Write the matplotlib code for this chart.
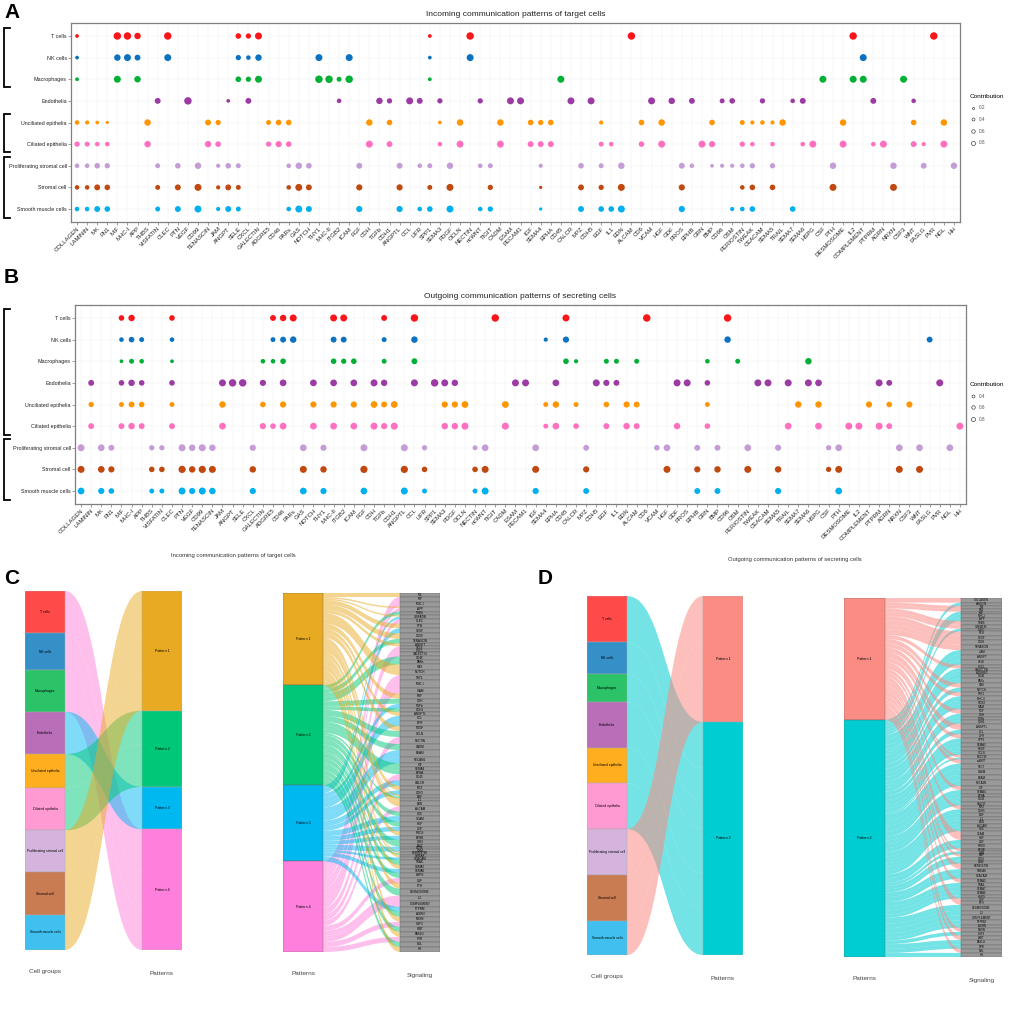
import matplotlib
matplotlib.use("Agg")
import matplotlib.pyplot as plt
from matplotlib.path import Path
from matplotlib.patches import PathPatch
from matplotlib.lines import Line2D
from matplotlib.transforms import blended_transform_factory

plt.rcParams['font.family'] = ['Liberation Sans', 'DejaVu Sans']

W, H = 1017, 1028

pathways = ["COLLAGEN", "LAMININ", "MK", "FN1", "MIF", "MHC-I", "APP", "THBS", "VISFATIN", "CLEC",
            "PTN", "VEGF", "CD99", "TENASCIN", "JAM", "ANGPT", "SELE", "CXCL", "GALECTIN", "ADGRE5",
            "CD46", "PARs", "GAS", "NOTCH", "THY1", "MHC-II", "ITGB2", "ICAM", "FGF", "CDH",
            "TGFb", "CDH1", "ANGPTL", "CCL", "LIFR", "SPP1", "SEMA3", "PDGF", "OCLN", "NECTIN",
            "ncWNT", "TIGIT", "CADM", "ESAM", "PECAM1", "IGF", "SEMA4", "EPHA", "CD45", "CALCR",
            "MPZ", "CDH5", "EGF", "IL1", "EDN", "ALCAM", "CD6", "VCAM", "HGF", "GDF",
            "PROS", "EPHB", "GRN", "BMP", "CD96", "OSM", "PERIOSTIN", "TWEAK", "CEACAM", "SEMA5",
            "TRAIL", "SEMA7", "SEMA6", "HSPG", "CSF", "PTH", "DESMOSOME", "IL2", "COMPLEMENT", "PTPRM",
            "AGRN", "NRXN", "CSF3", "WNT", "FASLG", "PVR", "NGL", "HH"]

cell_groups = ["T cells", "NK cells", "Macrophages", "Endothelia", "Unciliated epithelia",
               "Ciliated epithelia", "Proliferating stromal cell", "Stromal cell", "Smooth muscle cells"]
dot_colors = ["#F8161A", "#0A72C0", "#00B035", "#9D3BA5", "#FF9500",
              "#FF70C0", "#C59DD6", "#C0490F", "#00B0EE"]
box_colors = ["#FF4A4A", "#3690C8", "#2BC268", "#B86FB8", "#FFAE20",
              "#FF9AD2", "#D4B4DC", "#C97B52", "#3FC0EE"]

# ---- panel A: incoming contributions ----
inc_t = {"COLLAGEN": .2, "MIF": .8, "MHC-I": .8, "APP": .6, "CLEC": .8, "SELE": .45, "CXCL": .4,
         "GALECTIN": .7, "SPP1": .2, "NECTIN": .8, "ALCAM": .8, "IL2": .8, "PVR": .8}
inc_nk = {"COLLAGEN": .2, "MIF": .6, "MHC-I": .7, "APP": .5, "CLEC": .7, "SELE": .4, "CXCL": .3,
          "GALECTIN": .6, "THY1": .7, "ICAM": .7, "SPP1": .2, "NECTIN": .7, "COMPLEMENT": .7}
inc_mac = {"COLLAGEN": .2, "MIF": .7, "APP": .6, "SELE": .45, "CXCL": .4, "GALECTIN": .7, "THY1": .8,
           "MHC-II": .8, "ITGB2": .35, "ICAM": .8, "SPP1": .2, "CD45": .7, "CSF": .7, "IL2": .7,
           "COMPLEMENT": .7, "CSF3": .7}
inc_endo = {"VISFATIN": .5, "VEGF": .8, "ANGPT": .2, "CXCL": .5, "ITGB2": .3, "TGFb": .6, "CDH1": .4,
            "CCL": .7, "LIFR": .5, "SEMA3": .4, "ncWNT": .4, "ESAM": .7, "PECAM1": .7, "CALCR": .7,
            "CDH5": .7, "VCAM": .7, "GDF": .6, "EPHB": .5, "CD96": .35, "OSM": .45, "CEACAM": .4,
            "SEMA7": .3, "SEMA6": .5, "PTPRM": .5, "WNT": .3}
inc_uncil = {"COLLAGEN": .3, "LAMININ": .25, "MK": .2, "FN1": .15, "THBS": .6, "TENASCIN": .5, "JAM": .4,
             "ADGRE5": .35, "CD46": .45, "PARs": .45, "CDH": .6, "CDH1": .45, "SEMA3": .2, "OCLN": .6,
             "CADM": .6, "IGF": .45, "SEMA4": .4, "EPHA": .45, "EGF": .25, "CD6": .45, "HGF": .6,
             "BMP": .45, "PERIOSTIN": .35, "TWEAK": .25, "CEACAM": .3, "SEMA5": .25, "TRAIL": .6,
             "DESMOSOME": .6, "WNT": .45, "NGL": .6}
inc_cil = {"COLLAGEN": .4, "LAMININ": .35, "MK": .3, "FN1": .3, "THBS": .6, "TENASCIN": .6, "JAM": .45,
           "ADGRE5": .4, "CD46": .55, "PARs": .45, "CDH": .7, "CDH1": .5, "SEMA3": .3, "OCLN": .7,
           "CADM": .7, "IGF": .5, "SEMA4": .5, "EPHA": .5, "EGF": .35, "IL1": .3, "CD6": .45, "HGF": .7,
           "GRN": .7, "BMP": .55, "PERIOSTIN": .4, "TWEAK": .3, "SEMA5": .3, "SEMA6": .3, "HSPG": .7,
           "DESMOSOME": .7, "PTPRM": .3, "AGRN": .7, "WNT": .5, "FASLG": .25, "NGL": .7}
inc_prol = {"COLLAGEN": .3, "LAMININ": .3, "MK": .45, "FN1": .4, "VISFATIN": .35, "PTN": .45, "CD99": .6,
            "JAM": .25, "ANGPT": .45, "SELE": .35, "PARs": .3, "GAS": .6, "NOTCH": .45, "FGF": .5,
            "ANGPTL": .5, "LIFR": .3, "SPP1": .35, "PDGF": .6, "ncWNT": .3, "TIGIT": .35, "SEMA4": .25,
            "MPZ": .45, "EGF": .35, "EDN": .6, "PROS": .5, "EPHB": .3, "BMP": .2, "CD96": .25, "OSM": .25,
            "PERIOSTIN": .3, "TWEAK": .4, "SEMA5": .4, "PTH": .6, "NRXN": .6, "FASLG": .5, "HH": .6}
inc_strom = {"COLLAGEN": .3, "LAMININ": .3, "MK": .5, "FN1": .45, "VISFATIN": .35, "PTN": .5, "CD99": .7,
             "JAM": .25, "ANGPT": .5, "SELE": .35, "PARs": .3, "GAS": .7, "NOTCH": .5, "FGF": .55,
             "ANGPTL": .55, "SPP1": .35, "PDGF": .7, "TIGIT": .4, "SEMA4": .15, "MPZ": .5, "EGF": .4,
             "EDN": .7, "PROS": .55, "PERIOSTIN": .3, "TWEAK": .45, "SEMA5": .45, "PTH": .7, "NRXN": .7}
inc_smooth = {"COLLAGEN": .3, "LAMININ": .3, "MK": .5, "FN1": .45, "VISFATIN": .35, "PTN": .5, "CD99": .7,
              "JAM": .25, "ANGPT": .5, "SELE": .35, "PARs": .3, "GAS": .7, "NOTCH": .5, "FGF": .55,
              "ANGPTL": .55, "LIFR": .3, "SPP1": .45, "PDGF": .7, "ncWNT": .3, "TIGIT": .4, "SEMA4": .15,
              "MPZ": .5, "EGF": .45, "IL1": .45, "EDN": .7, "PROS": .55, "OSM": .25, "PERIOSTIN": .3,
              "TWEAK": .45, "SEMA7": .45}
incoming = [inc_t, inc_nk, inc_mac, inc_endo, inc_uncil, inc_cil, inc_prol, inc_strom, inc_smooth]

# ---- panel B: outgoing contributions ----
out_t = {"MIF": .45, "MHC-I": .6, "CLEC": .45, "ADGRE5": .5, "CD46": .6, "PARs": .7, "MHC-II": .7,
         "ITGB2": .7, "TGFb": .5, "CCL": .8, "TIGIT": .8, "CD45": .7, "CD6": .8, "CD96": .8}
out_nk = {"MIF": .3, "MHC-I": .45, "APP": .35, "CLEC": .3, "ADGRE5": .35, "CD46": .5, "PARs": .6,
          "MHC-II": .5, "ITGB2": .5, "TGFb": .35, "CCL": .6, "SEMA4": .25, "CD45": .55, "CD96": .6, "FASLG": .5}
out_mac = {"MIF": .2, "MHC-I": .35, "APP": .3, "CLEC": .2, "GALECTIN": .3, "ADGRE5": .3, "CD46": .45,
           "MHC-II": .45, "ITGB2": .4, "ICAM": .45, "TGFb": .35, "CCL": .5, "CD45": .45, "CALCR": .25,
           "EGF": .35, "IL1": .35, "ALCAM": .35, "GRN": .3, "OSM": .35, "SEMA6": .6}
out_endo = {"LAMININ": .5, "MIF": .45, "MHC-I": .6, "APP": .45, "CLEC": .45, "JAM": .7, "ANGPT": .8,
            "SELE": .8, "GALECTIN": .55, "CD46": .65, "NOTCH": .65, "MHC-II": .65, "ICAM": .65, "CDH": .7,
            "TGFb": .6, "CCL": .7, "SPP1": .8, "SEMA3": .7, "PDGF": .6, "ESAM": .7, "PECAM1": .7,
            "EPHA": .65, "CDH5": .7, "EGF": .55, "IL1": .5, "GDF": .7, "PROS": .7, "GRN": .45, "TWEAK": .7,
            "CEACAM": .7, "TRAIL": .7, "SEMA6": .7, "HSPG": .65, "PTPRM": .7, "AGRN": .5, "PVR": .7}
out_uncil = {"LAMININ": .4, "MIF": .35, "MHC-I": .5, "APP": .45, "CLEC": .35, "JAM": .6, "GALECTIN": .45,
             "CD46": .55, "NOTCH": .55, "MHC-II": .55, "ICAM": .55, "CDH": .65, "TGFb": .5, "CDH1": .65,
             "SEMA3": .55, "PDGF": .55, "OCLN": .65, "CADM": .65, "SEMA4": .35, "EPHA": .6, "CALCR": .35,
             "EGF": .45, "EDN": .55, "ALCAM": .5, "GRN": .35, "SEMA7": .6, "HSPG": .6, "COMPLEMENT": .55,
             "AGRN": .45, "CSF3": .55}
out_cil = {"LAMININ": .5, "MIF": .5, "MHC-I": .6, "APP": .5, "CLEC": .5, "JAM": .65, "GALECTIN": .55,
           "ADGRE5": .45, "CD46": .65, "NOTCH": .65, "MHC-II": .65, "ICAM": .65, "CDH": .7, "TGFb": .55,
           "CDH1": .7, "SEMA3": .6, "PDGF": .6, "OCLN": .7, "CADM": .7, "SEMA4": .35, "EPHA": .65,
           "CALCR": .45, "EGF": .5, "EDN": .6, "ALCAM": .5, "GDF": .6, "GRN": .45, "TRAIL": .65, "HSPG": .65,
           "DESMOSOME": .7, "IL2": .7, "PTPRM": .7, "AGRN": .5, "HH": .7}
out_prol = {"COLLAGEN": .7, "MK": .65, "FN1": .5, "THBS": .4, "VISFATIN": .4, "PTN": .7, "VEGF": .6,
            "CD99": .7, "TENASCIN": .6, "CXCL": .55, "GAS": .65, "THY1": .55, "FGF": .7, "ANGPTL": .7,
            "LIFR": .4, "NECTIN": .35, "ncWNT": .65, "IGF": .65, "MPZ": .5, "VCAM": .45, "HGF": .65,
            "EPHB": .5, "BMP": .5, "PERIOSTIN": .65, "SEMA5": .55, "CSF": .4, "PTH": .65, "NRXN": .65,
            "WNT": .65, "NGL": .65}
out_strom = {"COLLAGEN": .7, "MK": .65, "FN1": .55, "THBS": .45, "VISFATIN": .45, "PTN": .75, "VEGF": .6,
             "CD99": .75, "TENASCIN": .7, "CXCL": .6, "GAS": .7, "THY1": .6, "FGF": .75, "ANGPTL": .75,
             "LIFR": .45, "NECTIN": .45, "ncWNT": .7, "IGF": .7, "MPZ": .55, "HGF": .7, "EPHB": .55,
             "BMP": .6, "PERIOSTIN": .7, "SEMA5": .6, "CSF": .4, "PTH": .7, "NRXN": .7, "WNT": .7}
out_smooth = {"COLLAGEN": .65, "MK": .55, "FN1": .45, "THBS": .35, "VISFATIN": .35, "PTN": .7, "VEGF": .55,
              "CD99": .7, "TENASCIN": .6, "CXCL": .55, "GAS": .65, "THY1": .55, "FGF": .65, "ANGPTL": .7,
              "LIFR": .35, "NECTIN": .35, "ncWNT": .7, "IGF": .55, "MPZ": .5, "EPHB": .5, "BMP": .5,
              "SEMA5": .55, "PTH": .65}
outgoing = [out_t, out_nk, out_mac, out_endo, out_uncil, out_cil, out_prol, out_strom, out_smooth]

# ---- panel C: river plots (incoming) ----
c_patterns = ["Pattern 1", "Pattern 2", "Pattern 3", "Pattern 4"]
c_pattern_colors = ["#E8AA22", "#00C878", "#00B8F0", "#FF80DC"]
c_cell_flows = [("T cells", "Pattern 4", 1.26), ("NK cells", "Pattern 4", 1.10),
                ("Macrophages", "Pattern 4", 1.25), ("Endothelia", "Pattern 3", 1.27),
                ("Unciliated epithelia", "Pattern 2", 1.00), ("Ciliated epithelia", "Pattern 2", 1.28),
                ("Proliferating stromal cell", "Pattern 1", 1.26), ("Stromal cell", "Pattern 1", 1.27),
                ("Smooth muscle cells", "Pattern 1", 1.05)]
c_signals = ["MK", "MIF", "MHC-I", "APP", "THBS", "VISFATIN", "CLEC", "PTN", "VEGF", "CD99", "TENASCIN",
             "ANGPT", "SELE", "CXCL", "GALECTIN", "CD46", "PARs", "GAS", "NOTCH", "THY1", "MHC-II", "ICAM",
             "FGF", "CDH", "TGFb", "CDH1", "ANGPTL", "CCL", "LIFR", "PDGF", "OCLN", "NECTIN", "CADM", "ESAM",
             "PECAM1", "IGF", "SEMA4", "EPHA", "CD45", "CALCR", "MPZ", "CDH5", "EGF", "IL1", "EDN", "ALCAM",
             "CD6", "VCAM", "HGF", "GDF", "PROS", "EPHB", "GRN", "BMP", "CD96", "OSM", "PERIOSTIN", "TWEAK",
             "CEACAM", "TRAIL", "SEMA7", "SEMA6", "HSPG", "CSF", "PTH", "DESMOSOME", "IL2", "COMPLEMENT",
             "PTPRM", "AGRN", "NRXN", "CSF3", "WNT", "FASLG", "PVR", "NGL", "HH"]
c_signal_flows = [
    ("Pattern 1", "MK", .8), ("Pattern 4", "MIF", .9), ("Pattern 4", "MHC-I", 1.0), ("Pattern 4", "APP", .7),
    ("Pattern 1", "APP", .3), ("Pattern 2", "THBS", .7), ("Pattern 3", "VISFATIN", .5), ("Pattern 1", "VISFATIN", .3),
    ("Pattern 4", "CLEC", .9), ("Pattern 1", "PTN", .9), ("Pattern 3", "VEGF", 1.0), ("Pattern 1", "CD99", 1.1),
    ("Pattern 2", "TENASCIN", .9), ("Pattern 1", "ANGPT", .6), ("Pattern 4", "SELE", .6), ("Pattern 4", "CXCL", .6),
    ("Pattern 4", "GALECTIN", .8), ("Pattern 2", "CD46", .8), ("Pattern 2", "PARs", .8), ("Pattern 1", "GAS", 1.0),
    ("Pattern 1", "NOTCH", 1.1), ("Pattern 4", "THY1", 1.0), ("Pattern 4", "MHC-II", 1.6), ("Pattern 4", "ICAM", 1.1),
    ("Pattern 1", "FGF", 1.0), ("Pattern 2", "CDH", 1.0), ("Pattern 3", "TGFb", .9), ("Pattern 2", "CDH1", .7),
    ("Pattern 1", "ANGPTL", .8), ("Pattern 3", "CCL", 1.0), ("Pattern 3", "LIFR", 1.0), ("Pattern 1", "PDGF", 1.0),
    ("Pattern 2", "OCLN", 1.2), ("Pattern 4", "NECTIN", 1.4), ("Pattern 2", "CADM", 1.2), ("Pattern 3", "ESAM", 1.3),
    ("Pattern 3", "PECAM1", 1.3), ("Pattern 2", "IGF", .8), ("Pattern 2", "SEMA4", .7), ("Pattern 2", "EPHA", .7),
    ("Pattern 4", "CD45", 1.2), ("Pattern 3", "CALCR", 1.1), ("Pattern 1", "MPZ", .9), ("Pattern 3", "CDH5", .9),
    ("Pattern 2", "EGF", .4), ("Pattern 1", "EGF", .3), ("Pattern 1", "IL1", .6), ("Pattern 1", "EDN", 1.0),
    ("Pattern 4", "ALCAM", 1.0), ("Pattern 2", "CD6", .9), ("Pattern 3", "VCAM", 1.1), ("Pattern 2", "HGF", 1.0),
    ("Pattern 3", "GDF", .9), ("Pattern 1", "PROS", .9), ("Pattern 3", "EPHB", .8), ("Pattern 2", "GRN", .9),
    ("Pattern 2", "BMP", .5), ("Pattern 3", "CD96", .5), ("Pattern 3", "OSM", .5), ("Pattern 1", "PERIOSTIN", .3),
    ("Pattern 2", "PERIOSTIN", .3), ("Pattern 1", "TWEAK", .5), ("Pattern 3", "CEACAM", .5), ("Pattern 2", "TRAIL", 1.0),
    ("Pattern 1", "SEMA7", .8), ("Pattern 3", "SEMA6", .8), ("Pattern 2", "HSPG", 1.0), ("Pattern 4", "CSF", 1.0),
    ("Pattern 1", "PTH", 1.1), ("Pattern 2", "DESMOSOME", 1.4), ("Pattern 4", "IL2", 1.0), ("Pattern 4", "COMPLEMENT", 1.2),
    ("Pattern 3", "PTPRM", 1.0), ("Pattern 2", "AGRN", 1.0), ("Pattern 1", "NRXN", 1.0), ("Pattern 4", "CSF3", 1.0),
    ("Pattern 2", "WNT", 1.0), ("Pattern 1", "FASLG", 1.0), ("Pattern 4", "PVR", 1.0), ("Pattern 2", "NGL", 1.0),
    ("Pattern 1", "HH", 1.0)]

# ---- panel D: river plots (outgoing) ----
d_patterns = ["Pattern 1", "Pattern 2"]
d_pattern_colors = ["#FA8C84", "#00CDD1"]
d_cell_flows = [("T cells", "Pattern 2", 1.38), ("NK cells", "Pattern 2", 0.97),
                ("Macrophages", "Pattern 2", 0.83), ("Endothelia", "Pattern 2", 1.36),
                ("Unciliated epithelia", "Pattern 2", 1.07), ("Ciliated epithelia", "Pattern 2", 1.37),
                ("Proliferating stromal cell", "Pattern 1", 1.37), ("Stromal cell", "Pattern 1", 1.37),
                ("Smooth muscle cells", "Pattern 1", 1.03)]
d_signal_flows = [
    ("Pattern 1", "COLLAGEN", 1.0), ("Pattern 2", "LAMININ", .7), ("Pattern 1", "MK", .7), ("Pattern 1", "FN1", .6),
    ("Pattern 2", "MIF", .6), ("Pattern 2", "MHC-I", .8), ("Pattern 2", "APP", .6), ("Pattern 1", "THBS", .8),
    ("Pattern 1", "VISFATIN", .9), ("Pattern 2", "CLEC", .6), ("Pattern 1", "PTN", .9), ("Pattern 1", "VEGF", 1.0),
    ("Pattern 1", "CD99", 1.0), ("Pattern 1", "TENASCIN", 1.2), ("Pattern 2", "JAM", 1.0), ("Pattern 2", "ANGPT", 1.2),
    ("Pattern 2", "SELE", 1.0), ("Pattern 1", "CXCL", .8), ("Pattern 2", "GALECTIN", .6), ("Pattern 2", "ADGRE5", .6),
    ("Pattern 2", "CD46", 1.0), ("Pattern 2", "PARs", 1.0), ("Pattern 1", "GAS", 1.0), ("Pattern 2", "NOTCH", 1.0),
    ("Pattern 1", "THY1", .9), ("Pattern 2", "MHC-II", 1.0), ("Pattern 2", "ITGB2", .8), ("Pattern 2", "ICAM", 1.0),
    ("Pattern 1", "FGF", 1.0), ("Pattern 2", "CDH", .7), ("Pattern 2", "TGFb", .7), ("Pattern 2", "CDH1", .8),
    ("Pattern 1", "ANGPTL", 1.3), ("Pattern 2", "CCL", 1.0), ("Pattern 1", "LIFR", .9), ("Pattern 2", "SPP1", .9),
    ("Pattern 2", "SEMA3", 1.0), ("Pattern 2", "PDGF", .8), ("Pattern 2", "OCLN", .9), ("Pattern 1", "NECTIN", .6),
    ("Pattern 2", "NECTIN", .4), ("Pattern 1", "ncWNT", .9), ("Pattern 2", "TIGIT", 1.3), ("Pattern 2", "CADM", 1.2),
    ("Pattern 2", "ESAM", 1.2), ("Pattern 2", "PECAM1", 1.2), ("Pattern 1", "IGF", .9), ("Pattern 2", "SEMA4", .8),
    ("Pattern 2", "EPHA", .8), ("Pattern 2", "CD45", .9), ("Pattern 2", "CALCR", .9), ("Pattern 1", "MPZ", .8),
    ("Pattern 2", "CDH5", .9), ("Pattern 2", "EGF", .8), ("Pattern 2", "IL1", .7), ("Pattern 2", "EDN", .8),
    ("Pattern 2", "ALCAM", .8), ("Pattern 2", "CD6", .8), ("Pattern 1", "VCAM", 1.0), ("Pattern 1", "HGF", .9),
    ("Pattern 2", "GDF", .9), ("Pattern 2", "PROS", 1.0), ("Pattern 1", "EPHB", .6), ("Pattern 2", "GRN", .6),
    ("Pattern 1", "BMP", .6), ("Pattern 2", "CD96", .8), ("Pattern 2", "OSM", .7), ("Pattern 1", "PERIOSTIN", 1.2),
    ("Pattern 2", "TWEAK", 1.0), ("Pattern 2", "CEACAM", 1.1), ("Pattern 1", "SEMA5", .9), ("Pattern 2", "TRAIL", .9),
    ("Pattern 2", "SEMA7", .9), ("Pattern 2", "SEMA6", .9), ("Pattern 2", "HSPG", .7), ("Pattern 1", "CSF", .6),
    ("Pattern 1", "PTH", .8), ("Pattern 2", "DESMOSOME", 1.3), ("Pattern 2", "IL2", 1.0), ("Pattern 2", "COMPLEMENT", 1.1),
    ("Pattern 2", "PTPRM", .9), ("Pattern 2", "AGRN", .7), ("Pattern 1", "NRXN", .9), ("Pattern 2", "CSF3", .8),
    ("Pattern 1", "WNT", 1.0), ("Pattern 2", "FASLG", 1.0), ("Pattern 2", "PVR", .9), ("Pattern 1", "NGL", .9),
    ("Pattern 2", "HH", .9)]

SIZE_K = 36


def fig_rect(x0, y0, x1, y1):
    return [x0 / W, 1 - y1 / H, (x1 - x0) / W, (y1 - y0) / H]


def dot_panel(ax, data, title, legend_vals, legend_y):
    for i, row in enumerate(data):
        xs = [pathways.index(p) for p in row]
        ax.scatter(xs, [i] * len(xs), s=[SIZE_K * v for v in row.values()],
                   color=dot_colors[i], linewidths=0, zorder=3)
    ax.set_xlim(-0.6, len(pathways) - 0.4)
    ax.set_ylim(len(cell_groups) - 0.4, -0.6)
    ax.set_xticks(range(len(pathways)))
    ax.set_xticklabels(pathways, rotation=45, ha='right', rotation_mode='anchor', fontsize=4.3, color='#222222')
    ax.set_yticks(range(len(cell_groups)))
    ax.set_yticklabels(cell_groups, fontsize=3.9, color='#222222')
    ax.tick_params(length=2, width=0.4, color='#555555', pad=1)
    ax.grid(color='#F0F0F0', lw=0.35)
    ax.set_axisbelow(True)
    for sp in ax.spines.values():
        sp.set_color('#7F7F7F')
        sp.set_linewidth(0.9)
    ax.set_title(title, fontsize=6, pad=5, color='#222222')
    handles = [Line2D([], [], ls='none', marker='o', markersize=0.55 * (SIZE_K * v) ** 0.5,
                      markerfacecolor='none', markeredgecolor='#444444', markeredgewidth=0.5)
               for v in legend_vals]
    leg = ax.legend(handles, [str(v) for v in legend_vals], title='Contribution', loc='upper left',
                    bbox_to_anchor=(968 / W, 1 - legend_y / H), bbox_transform=ax.figure.transFigure,
                    frameon=False, fontsize=3.4, title_fontsize=4.6, handletextpad=0.8,
                    labelspacing=1.4, borderaxespad=0, handlelength=1.2)
    for t in leg.get_texts():
        t.set_color('#555555')
    leg._legend_box.align = 'left'


def bracket(ax, fig, r0, r1, ext):
    tr = blended_transform_factory(fig.transFigure, ax.transData)
    xa, xb = 3.5 / W, 10 / W
    ax.plot([xb, xa, xa, xb], [r0 - ext, r0 - ext, r1 + ext, r1 + ext], color='black',
            lw=1.3, transform=tr, clip_on=False, solid_joinstyle='miter')


def river(ax, left, left_cols, right, right_cols, flows, color_side, titles, node_w,
          flow_alpha, box_edge, label_size):
    lsum = {n: 0.0 for n in left}
    rsum = {n: 0.0 for n in right}
    for a, b, w in flows:
        lsum[a] += w
        rsum[b] += w
    total = max(sum(lsum.values()), sum(rsum.values()))
    ax.set_xlim(0, 1)
    ax.set_ylim(total, 0)
    ax.axis('off')
    ltop, rtop = {}, {}
    y = 0
    for n in left:
        ltop[n] = y
        y += lsum[n]
    y = 0
    for n in right:
        rtop[n] = y
        y += rsum[n]
    ax.bar([node_w / 2] * len(left), [lsum[n] for n in left], bottom=[ltop[n] for n in left],
           width=node_w, color=left_cols, edgecolor=box_edge, linewidth=0.3, zorder=2)
    ax.bar([1 - node_w / 2] * len(right), [rsum[n] for n in right], bottom=[rtop[n] for n in right],
           width=node_w, color=right_cols, edgecolor=box_edge, linewidth=0.3, zorder=2)
    src, dst = {}, {}
    cur = dict(ltop)
    for f in sorted(flows, key=lambda f: (left.index(f[0]), right.index(f[1]))):
        src[f] = cur[f[0]]
        cur[f[0]] += f[2]
    cur = dict(rtop)
    for f in sorted(flows, key=lambda f: (right.index(f[1]), left.index(f[0]))):
        dst[f] = cur[f[1]]
        cur[f[1]] += f[2]
    x0, x1 = node_w, 1 - node_w
    xm = (x0 + x1) / 2
    codes = [Path.MOVETO, Path.CURVE4, Path.CURVE4, Path.CURVE4, Path.LINETO,
             Path.CURVE4, Path.CURVE4, Path.CURVE4, Path.CLOSEPOLY]
    for f in flows:
        s0, t0, w = src[f], dst[f], f[2]
        verts = [(x0, s0), (xm, s0), (xm, t0), (x1, t0), (x1, t0 + w),
                 (xm, t0 + w), (xm, s0 + w), (x0, s0 + w), (x0, s0)]
        if color_side == 'left':
            col = left_cols[left.index(f[0])]
        else:
            col = right_cols[right.index(f[1])]
        ax.add_patch(PathPatch(Path(verts, codes), facecolor=col, alpha=flow_alpha, lw=0, zorder=1))
    for n in left:
        ax.text(node_w / 2, ltop[n] + lsum[n] / 2, n, ha='center', va='center', fontsize=label_size[0], zorder=3)
    for n in right:
        ax.text(1 - node_w / 2, rtop[n] + rsum[n] / 2, n, ha='center', va='center', fontsize=label_size[1], zorder=3)
    tr = blended_transform_factory(ax.transData, ax.transAxes)
    ax.text(node_w / 2, -0.06, titles[0], transform=tr, ha='center', va='center', fontsize=4.6, color='#444444')
    ax.text(1 - node_w / 2, -0.065, titles[1], transform=tr, ha='center', va='center', fontsize=4.6, color='#444444')


fig = plt.figure(figsize=(W / 100, H / 100), dpi=100)

axA = fig.add_axes(fig_rect(71, 23, 960, 222))
dot_panel(axA, incoming, "Incoming communication patterns of target cells", [0.2, 0.4, 0.6, 0.8], 92)
bracket(axA, fig, 0, 2, 0.38)
bracket(axA, fig, 4, 5, 0.38)
bracket(axA, fig, 6, 8, 0.4)

axB = fig.add_axes(fig_rect(75, 305, 966, 504))
dot_panel(axB, outgoing, "Outgoing communication patterns of secreting cells", [0.4, 0.6, 0.8], 380)
bracket(axB, fig, 0, 5, 0.4)
bracket(axB, fig, 6, 8, 0.4)

fig.text(233 / W, 1 - 555 / H, "Incoming communication patterns of target cells", ha='center', va='center',
         fontsize=4.2, color='#333333')
fig.text(795 / W, 1 - 559 / H, "Outgoing communication patterns of secreting cells", ha='center', va='center',
         fontsize=4.2, color='#333333')

c_cells = [f[0] for f in c_cell_flows]
axC1 = fig.add_axes(fig_rect(25, 591, 182, 950))
river(axC1, c_cells, box_colors, c_patterns, c_pattern_colors, c_cell_flows, 'right',
      ("Cell groups", "Patterns"), 40 / 157, 0.5, '#AAAAAA', (2.4, 2.6))

axC2 = fig.add_axes(fig_rect(283, 593, 440, 952))
river(axC2, c_patterns, c_pattern_colors, c_signals, ['#9A9A9A'] * len(c_signals), c_signal_flows, 'left',
      ("Patterns", "Signaling"), 40 / 157, 0.5, '#666666', (2.6, 2.2))

d_cells = [f[0] for f in d_cell_flows]
axD1 = fig.add_axes(fig_rect(587, 596, 743, 955))
river(axD1, d_cells, box_colors, d_patterns, d_pattern_colors, d_cell_flows, 'right',
      ("Cell groups", "Patterns"), 40 / 156, 0.55, '#AAAAAA', (2.4, 2.6))

axD2 = fig.add_axes(fig_rect(844, 598, 1002, 957))
river(axD2, d_patterns, d_pattern_colors, pathways, ['#9A9A9A'] * len(pathways), d_signal_flows, 'left',
      ("Patterns", "Signaling"), 41 / 158, 0.55, '#666666', (2.6, 2.0))

for letter, x, y in [("A", 12, 12), ("B", 11, 278), ("C", 12, 578), ("D", 545, 578)]:
    fig.text(x / W, 1 - y / H, letter, fontsize=15, fontweight='bold', ha='center', va='center')

fig.savefig("out.png", dpi=100)
